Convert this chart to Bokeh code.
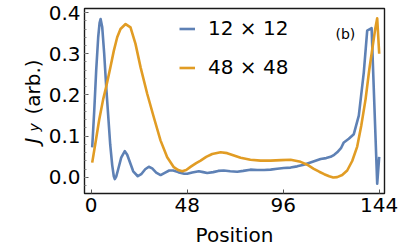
import math
from bokeh.plotting import figure
from bokeh.layouts import row
from bokeh.models import Range1d, FixedTicker, Legend, LegendItem, Label
from bokeh.core.properties import value
from bokeh.embed import file_html
from bokeh.resources import INLINE

# ---- data ----
blue_label = "12 × 12"
orange_label = "48 × 48"

blue_x = [0.5, 1.5, 2.5, 3.5, 4.2, 4.7, 5.5, 6.5, 7.5, 8.5, 9.5, 10.5, 11.3, 11.8, 12.5, 13.5,
          15, 16.8, 18, 19.5, 21, 23.3, 25, 27, 28.8, 30.5, 32.5, 34.7, 37, 39, 41, 43.5,
          46.5, 48, 50.5, 53.8, 56, 58, 61, 63.5, 66.3, 69.5, 73, 76, 79.6, 83, 86.5, 89.7,
          93, 96.3, 99.7, 103, 106.3, 110, 114.7, 117.5, 119.7, 121.5, 123, 125, 126.3,
          128.8, 131.3, 133.8, 136.3, 138, 140.2, 143, 144]
blue_y = [0.073, 0.16, 0.26, 0.34, 0.375, 0.384, 0.365, 0.30, 0.22, 0.15, 0.08, 0.03, 0.003,
          -0.004, 0.002, 0.02, 0.048, 0.064, 0.055, 0.035, 0.015, 0.003, 0.008, 0.02, 0.026,
          0.022, 0.012, 0.006, 0.012, 0.017, 0.017, 0.013, 0.009, 0.009, 0.012, 0.015, 0.013,
          0.011, 0.013, 0.016, 0.017, 0.015, 0.014, 0.016, 0.019, 0.018, 0.018, 0.019, 0.021,
          0.023, 0.024, 0.027, 0.031, 0.037, 0.045, 0.047, 0.05, 0.055, 0.061, 0.072, 0.085,
          0.094, 0.105, 0.15, 0.255, 0.356, 0.362, -0.015, 0.05]

orange_x = [0.5, 2, 4, 6, 7.5, 9.5, 11.3, 13, 14.65, 17.2, 19.65, 22.15, 24.7, 28, 31.3,
            34.65, 38, 41.3, 43.5, 45.5, 47.5, 50, 52.5, 54.7, 57.5, 60.5, 64.7, 68, 71,
            74.7, 79.6, 84.7, 89.7, 95, 99.7, 104.7, 108, 111.3, 114, 116.5, 119, 121, 123,
            125.5, 128, 130.5, 133, 135, 137.2, 139, 140.5, 142, 143, 144]
orange_y = [0.036, 0.08, 0.14, 0.19, 0.22, 0.265, 0.307, 0.34, 0.36, 0.372, 0.364, 0.324,
            0.267, 0.203, 0.146, 0.09, 0.049, 0.025, 0.018, 0.015, 0.018, 0.027, 0.035,
            0.041, 0.05, 0.057, 0.061, 0.059, 0.054, 0.048, 0.043, 0.041, 0.041, 0.042,
            0.043, 0.038, 0.031, 0.021, 0.014, 0.008, 0.003, 0.0, 0.001, 0.006, 0.017, 0.04,
            0.075, 0.125, 0.19, 0.26, 0.31, 0.36, 0.386, 0.30]

x_ticks = [0, 48, 96, 144]
x_tick_labels = ["0", "48", "96", "144"]
y_ticks = [0.0, 0.1, 0.2, 0.3, 0.4]
y_tick_labels = ["0.0", "0.1", "0.2", "0.3", "0.4"]

x_title = "Position"
y_title_main = "J"
y_title_sub = "y"
y_title_unit = "(arb.)"
panel_tag = "(b)"

BLUE = "#5E81B5"
ORANGE = "#E19C24"
FONT = "DejaVu Sans"

TOTAL_W, H = 399, 249
LAB_W = 44
FRAME_TOP, FRAME_BOTTOM = 8, 193   # frame edges shared by both panels of the row

# ---- narrow strip holding the rotated y title (y in page pixels, measured upward) ----
lab = figure(width=LAB_W, height=H, output_backend="svg", toolbar_location=None,
             x_range=Range1d(0, LAB_W), y_range=Range1d(H - FRAME_BOTTOM, H - FRAME_TOP),
             x_axis_location=None, y_axis_location=None, title=None,
             min_border=0, min_border_left=0, min_border_right=0,
             min_border_top=FRAME_TOP, min_border_bottom=H - FRAME_BOTTOM)
lab.outline_line_color = None
lab.xgrid.visible = False
lab.ygrid.visible = False
lab.background_fill_color = "white"
lab.border_fill_color = "white"
lab.text(x=[31.5], y=[H - 143], text=[y_title_main], angle=math.pi / 2,
         text_font=value(FONT), text_font_style="italic", text_font_size="20px",
         text_color="black", text_align="left", text_baseline="alphabetic")
lab.text(x=[33], y=[H - 131], text=[y_title_sub], angle=math.pi / 2,
         text_font=value(FONT), text_font_style="italic", text_font_size="14px",
         text_color="black", text_align="left", text_baseline="alphabetic")
lab.text(x=[32], y=[H - 114], text=[y_title_unit], angle=math.pi / 2,
         text_font=value(FONT), text_font_size="20px",
         text_color="black", text_align="left", text_baseline="alphabetic")

# ---- main plot ----
PW = TOTAL_W - LAB_W
p = figure(width=PW, height=H, output_backend="svg", toolbar_location=None,
           x_range=Range1d(-3.35, 146.65), y_range=Range1d(-0.0388, 0.4097),
           min_border_left=84 - LAB_W, min_border_right=PW - (84 - LAB_W) - 300,
           min_border_top=FRAME_TOP, min_border_bottom=H - FRAME_BOTTOM)
p.background_fill_color = "white"
p.border_fill_color = "white"
p.outline_line_color = "#1a1a1a"
p.outline_line_width = 1.4
p.xgrid.visible = False
p.ygrid.visible = False

r_blue = p.line(blue_x, blue_y, line_color=BLUE, line_width=2.6, line_join="round")
r_orange = p.line(orange_x, orange_y, line_color=ORANGE, line_width=2.6, line_join="round")

minor_y = [round(-0.02 + 0.02 * i, 3) for i in range(22)]
p.yaxis.ticker = FixedTicker(ticks=y_ticks, minor_ticks=minor_y)
p.xaxis.ticker = FixedTicker(ticks=x_ticks)
p.yaxis.major_label_overrides = {t: s for t, s in zip(y_ticks, y_tick_labels)}
p.xaxis.major_label_overrides = {t: s for t, s in zip(x_ticks, x_tick_labels)}

for ax in (p.xaxis, p.yaxis):
    ax.axis_line_color = None
    ax.major_tick_in = 4
    ax.major_tick_out = 0
    ax.minor_tick_in = 2
    ax.minor_tick_out = 0
    ax.major_tick_line_color = "#555555"
    ax.minor_tick_line_color = "#888888"
    ax.major_label_text_font = FONT
    ax.major_label_text_font_size = "20px"
    ax.major_label_text_color = "black"
p.yaxis.major_label_standoff = 4
p.xaxis.major_label_standoff = 4

p.xaxis.axis_label = x_title
p.xaxis.axis_label_text_font = FONT
p.xaxis.axis_label_text_font_size = "20px"
p.xaxis.axis_label_text_font_style = "normal"
p.xaxis.axis_label_text_color = "black"
p.xaxis.axis_label_standoff = 8

# panel tag
p.add_layout(Label(x=251, y=160, x_units="screen", y_units="screen", text=panel_tag,
                   text_font=FONT, text_font_size="14px", text_color="black",
                   text_align="left", text_baseline="alphabetic"))

legend = Legend(items=[LegendItem(label=blue_label, renderers=[r_blue]),
                       LegendItem(label=orange_label, renderers=[r_orange])],
                location=(95, 114), padding=0, spacing=15, glyph_width=16,
                glyph_height=23, label_height=23, label_standoff=13,
                label_text_font=FONT, label_text_font_size="20px",
                label_text_color="black", border_line_color=None,
                background_fill_alpha=0)
p.add_layout(legend, "center")

layout = row(lab, p, spacing=0)
open("out.html", "w").write(file_html(layout, INLINE))
